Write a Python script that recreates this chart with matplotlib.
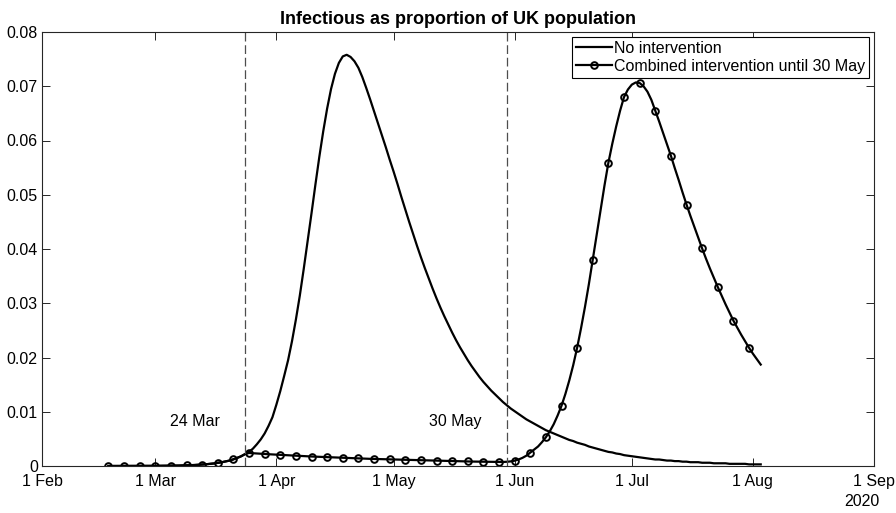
import numpy as np
import pandas as pd
import matplotlib
matplotlib.use('Agg')
import matplotlib.pyplot as plt

plt.rcParams['font.family'] = ['Liberation Sans', 'DejaVu Sans']

# daily values, 18 Feb .. 3 Aug 2020
dates = pd.date_range('2020-02-18', '2020-08-03', freq='D')

no_intervention = [
    0.000002, 0.0000025, 0.000003,
    0.000004, 0.000005, 0.000006, 0.0000075, 0.000009, 0.000011, 0.000013, 0.000016, 0.00002, 0.000024,
    0.00003, 0.000036, 0.000044, 0.000054, 0.000066, 0.00008, 0.0001, 0.00012, 0.00015, 0.00018,
    0.00022, 0.00026, 0.00032, 0.00039, 0.00047, 0.00057, 0.00069, 0.00084, 0.001, 0.00123,
    0.0015, 0.0018, 0.0022, 0.0026, 0.0032, 0.0040, 0.0049, 0.0060, 0.0074, 0.0090,
    0.0113, 0.0138, 0.0166, 0.0195, 0.0230, 0.0270, 0.0314, 0.0363, 0.0414, 0.0466,
    0.0519, 0.0570, 0.0617, 0.0659, 0.0695, 0.0723, 0.0743, 0.0755, 0.0758, 0.0754,
    0.0746, 0.0734, 0.0717, 0.0697, 0.0676, 0.0654, 0.0632, 0.0610, 0.0588, 0.0565,
    0.0543, 0.0520, 0.0496, 0.0473, 0.0450, 0.0428, 0.0406, 0.0385, 0.0365, 0.0346,
    0.0327, 0.0309, 0.0292, 0.0276, 0.0261, 0.0246, 0.0232, 0.0219, 0.0207, 0.0195,
    0.0184, 0.0174, 0.0164, 0.0155, 0.0147, 0.0139, 0.0132, 0.0125, 0.0118, 0.0112,
    0.0106, 0.0101, 0.0096, 0.0091, 0.0086, 0.0082, 0.0078, 0.0074, 0.0070, 0.0066,
    0.0063, 0.0060, 0.0057, 0.0054, 0.0051, 0.0048, 0.0046, 0.0043, 0.0041, 0.0039,
    0.0036, 0.0034, 0.0032, 0.0030, 0.0028, 0.0026, 0.0025, 0.0023, 0.0022, 0.0020,
    0.0019, 0.0018, 0.0017, 0.0016, 0.0015, 0.0014, 0.0013, 0.0012, 0.0012, 0.0011,
    0.0010, 0.0010, 0.0009, 0.0009, 0.0008, 0.0008, 0.0007, 0.0007, 0.0007, 0.0006,
    0.0006, 0.0006, 0.0005, 0.0005, 0.0005, 0.0005, 0.0004, 0.0004, 0.0004, 0.0004,
    0.0004, 0.0003, 0.0003, 0.0003, 0.0003,
]

combined = [
    0.000002, 0.0000025, 0.000003,
    0.000004, 0.000005, 0.000006, 0.0000075, 0.000009, 0.000011, 0.000013, 0.000016, 0.00002, 0.000024,
    0.00003, 0.000036, 0.000044, 0.000054, 0.000066, 0.00008, 0.0001, 0.00012, 0.00015, 0.00018,
    0.00022, 0.00026, 0.00032, 0.00039, 0.00047, 0.00057, 0.00069, 0.00084, 0.001, 0.00123,
    0.0015, 0.0018, 0.0022, 0.00240, 0.00235, 0.00231, 0.00226, 0.00221, 0.00217, 0.00213,
    0.00209, 0.00205, 0.00201, 0.00197, 0.00193, 0.00189, 0.00186, 0.00182, 0.00179, 0.00175,
    0.00172, 0.00169, 0.00166, 0.00163, 0.00160, 0.00157, 0.00154, 0.00151, 0.00148, 0.00145,
    0.00143, 0.00140, 0.00137, 0.00135, 0.00132, 0.00130, 0.00127, 0.00125, 0.00123, 0.00120,
    0.00118, 0.00116, 0.00114, 0.00112, 0.00110, 0.00108, 0.00106, 0.00104, 0.00102, 0.00100,
    0.00098, 0.00096, 0.00095, 0.00093, 0.00091, 0.00090, 0.00088, 0.00087, 0.00085, 0.00084,
    0.00082, 0.00081, 0.00079, 0.00078, 0.00077, 0.00075, 0.00074, 0.00073, 0.00074, 0.00078,
    0.00085, 0.00098, 0.0012, 0.0015, 0.0019, 0.00246, 0.0030, 0.0036, 0.0044, 0.0053,
    0.0064, 0.0077, 0.0093, 0.0111, 0.0133, 0.0158, 0.0186, 0.0218, 0.0254, 0.0293,
    0.0335, 0.0380, 0.0426, 0.0472, 0.0517, 0.0559, 0.0594, 0.0626, 0.0655, 0.0680,
    0.0694, 0.0703, 0.0707, 0.0706, 0.0700, 0.0690, 0.0675, 0.0655, 0.0635, 0.0614,
    0.0593, 0.0572, 0.0549, 0.0527, 0.0504, 0.0482, 0.0461, 0.0441, 0.0421, 0.0401,
    0.0382, 0.0364, 0.0347, 0.0330, 0.0314, 0.0298, 0.0283, 0.0268, 0.0255, 0.0242,
    0.0230, 0.0218, 0.0207, 0.0197, 0.0187,
]

event_dates = ['2020-03-24', '2020-05-30']
event_labels = ['24 Mar', '30 May']

x_ticks = pd.date_range('2020-02-01', '2020-09-01', freq='MS')
x_tick_labels = ['1 Feb', '1 Mar', '1 Apr', '1 May', '1 Jun', '1 Jul', '1 Aug', '1 Sep']
y_ticks = [0, 0.01, 0.02, 0.03, 0.04, 0.05, 0.06, 0.07, 0.08]
y_tick_labels = ['0', '0.01', '0.02', '0.03', '0.04', '0.05', '0.06', '0.07', '0.08']

fig = plt.figure(figsize=(8.96, 5.13), dpi=100)
ax = fig.add_axes([42 / 896, 1 - 466 / 513, 832 / 896, 434 / 513])

ax.plot(dates, no_intervention, color='black', lw=1.6, label='No intervention')
ax.plot(dates, combined, color='black', lw=1.6, marker='o', markevery=4,
        markersize=4.8, markerfacecolor='none', markeredgewidth=1.4,
        label='Combined intervention until 30 May')

for d, lab in zip(event_dates, event_labels):
    d = pd.Timestamp(d)
    ax.axvline(d, color='0.3', lw=0.9, dashes=(7, 3))
    ax.text(d - pd.Timedelta(days=6.4), 0.0082, lab, ha='right', va='center', fontsize=11.5)

ax.set_xlim(x_ticks[0], x_ticks[-1])
ax.set_ylim(0, 0.08)
ax.set_xticks(x_ticks)
ax.set_xticklabels(x_tick_labels)
ax.set_yticks(y_ticks)
ax.set_yticklabels(y_tick_labels)
ax.tick_params(direction='in', length=6, width=0.7, color='0.15', labelsize=11.5,
               top=True, right=True)
ax.tick_params(axis='x', pad=6)
ax.tick_params(axis='y', pad=3)

for s in ax.spines.values():
    s.set_color('0.15')
    s.set_linewidth(0.8)

ax.set_title('Infectious as proportion of UK population', fontsize=13,
             fontweight='bold', pad=6)
ax.text(1.0072, -0.064, '2020', transform=ax.transAxes, ha='right', va='top', fontsize=11.5)

leg = ax.legend(loc='upper right', fontsize=11.5, fancybox=False, framealpha=1,
                edgecolor='black', handlelength=2.3, handletextpad=0.1,
                borderpad=0.25, labelspacing=0.2, borderaxespad=0.3)
leg.get_frame().set_linewidth(0.8)

fig.savefig('out.png', dpi=100)
